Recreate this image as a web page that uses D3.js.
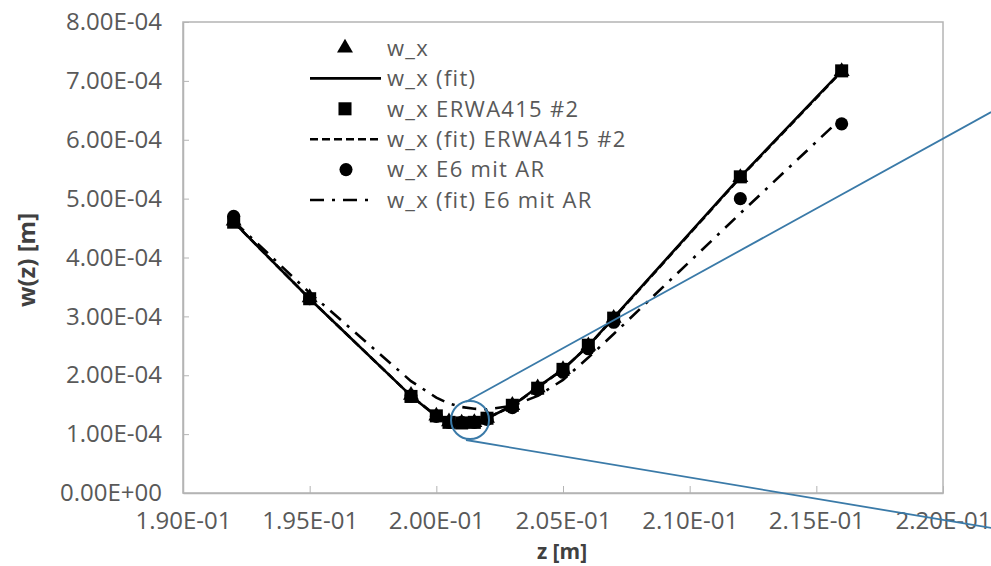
<!DOCTYPE html>
<html>
<head>
<meta charset="utf-8">
<script src="https://cdn.jsdelivr.net/npm/d3@7/dist/d3.min.js"></script>
<style>
body{margin:0;background:#fff}
text{font-family:"Open Sans",sans-serif}
</style>
</head>
<body>
<script>
// z positions [m]
var zVals=[0.192,0.195,0.199,0.200,0.2005,0.201,0.2015,0.202,0.203,0.204,0.205,0.206,0.207,0.212,0.216]

// w_x (triangles) and its fit
var wx=[4.62e-4,3.32e-4,1.66e-4,1.31e-4,1.21e-4,1.19e-4,1.2e-4,1.27e-4,1.49e-4,1.79e-4,2.1e-4,2.5e-4,2.97e-4,5.36e-4,7.16e-4]
var wxFit=[4.6e-4,3.3e-4,1.65e-4,1.3e-4,1.2e-4,1.18e-4,1.2e-4,1.27e-4,1.48e-4,1.8e-4,2.1e-4,2.5e-4,2.98e-4,5.37e-4,7.17e-4]

// w_x ERWA415 #2 (squares) and its fit
var erwa=[4.6e-4,3.3e-4,1.64e-4,1.31e-4,1.2e-4,1.19e-4,1.2e-4,1.27e-4,1.49e-4,1.78e-4,2.1e-4,2.51e-4,2.97e-4,5.37e-4,7.17e-4]
var erwaFit=[4.6e-4,3.3e-4,1.65e-4,1.31e-4,1.21e-4,1.19e-4,1.2e-4,1.27e-4,1.48e-4,1.79e-4,2.1e-4,2.5e-4,2.97e-4,5.36e-4,7.16e-4]

// w_x E6 mit AR (circles) and its fit
var e6=[4.7e-4,3.3e-4,1.65e-4,1.3e-4,1.2e-4,1.2e-4,1.2e-4,1.25e-4,1.45e-4,1.75e-4,2.05e-4,2.45e-4,2.9e-4,5.0e-4,6.27e-4]
var e6Fit=[4.62e-4,3.4e-4,1.9e-4,1.62e-4,1.52e-4,1.46e-4,1.43e-4,1.42e-4,1.48e-4,1.65e-4,1.92e-4,2.3e-4,2.7e-4,4.75e-4,6.37e-4]

var xTicks=[0.19,0.195,0.2,0.205,0.21,0.215,0.22]
var yTicks=[0,1e-4,2e-4,3e-4,4e-4,5e-4,6e-4,7e-4,8e-4]
var legendLabels=["w_x","w_x (fit)","w_x ERWA415 #2","w_x (fit) ERWA415 #2","w_x E6 mit AR","w_x (fit) E6 mit AR"]

// zoom marker (data coords) : circle centre and the two lines leaving it
var zoomCentre=[0.20133,1.24e-4]
var zoomLines=[[[0.20117,1.55e-4],[0.2219,6.47e-4]],[[0.20117,0.90e-4],[0.2219,-0.594e-4]]]

var W=991,H=566
var x=d3.scaleLinear().domain([0.19,0.22]).range([183,943])
var y=d3.scaleLinear().domain([0,8e-4]).range([493,22])

function fmt(d){
  var s=d.toExponential(2).split("e")
  var e=+s[1]
  return s[0]+"E"+(e<0?"-":"+")+String(Math.abs(e)).padStart(2,"0")
}

var svg=d3.select("body").append("svg")
.attr("width",W)
.attr("height",H)

// plot frame
svg.append("rect")
.attr("x",x(0.19)).attr("y",y(8e-4))
.attr("width",x(0.22)-x(0.19)).attr("height",y(0)-y(8e-4))
.attr("fill","none").attr("stroke","#b4b4b4").attr("stroke-width",1.5)

// axes
var gx=svg.append("g").attr("transform","translate(0,"+y(0)+")")
.call(d3.axisBottom(x).tickValues(xTicks).tickFormat(fmt).tickSizeInner(-7).tickSizeOuter(0))
gx.select(".domain").attr("stroke","#b4b4b4").attr("stroke-width",1.5)
gx.selectAll(".tick line").attr("stroke","#b4b4b4")
gx.selectAll(".tick text").attr("y",28).attr("dy","0.32em")
.attr("fill","#595959").style("font-size","24px")

var gy=svg.append("g").attr("transform","translate("+x(0.19)+",0)")
.call(d3.axisLeft(y).tickValues(yTicks).tickFormat(fmt).tickSizeInner(-6).tickSizeOuter(0))
gy.select(".domain").attr("stroke","#b4b4b4").attr("stroke-width",1.5)
gy.selectAll(".tick line").attr("stroke","#b4b4b4")
gy.selectAll(".tick text").attr("x",-21).attr("dy","0.32em")
.attr("fill","#595959").style("font-size","24px")

svg.append("text")
.attr("x",562).attr("y",552).attr("dy","0.35em")
.attr("text-anchor","middle").attr("fill","#404040")
.style("font-size","21px").style("font-weight","bold")
.text("z [m]")

svg.append("text")
.attr("transform","translate(27,260) rotate(-90)")
.attr("dy","0.35em")
.attr("text-anchor","middle").attr("fill","#404040")
.style("font-size","24px").style("font-weight","bold")
.text("w(z) [m]")

// series
function pts(vals){return zVals.map(function(z,i){return [z,vals[i]]})}
var line=d3.line().x(function(d){return x(d[0])}).y(function(d){return y(d[1])})

var tri=d3.symbol().type(d3.symbolTriangle).size(110)
var sq=d3.symbol().type(d3.symbolSquare).size(170)
var circ=d3.symbol().type(d3.symbolCircle).size(135)

var styles=[
  {dash:null},
  {dash:"8,4"},
  {dash:"14,8,3,8"}
]

svg.append("g").selectAll("path").data(pts(wx)).join("path")
.attr("d",tri).attr("transform",function(d){return "translate("+x(d[0])+","+y(d[1])+")"})
.attr("fill","#000")

svg.append("path").datum(pts(wxFit))
.attr("d",line).attr("fill","none").attr("stroke","#000").attr("stroke-width",2.6)

svg.append("g").selectAll("path").data(pts(erwa)).join("path")
.attr("d",sq).attr("transform",function(d){return "translate("+x(d[0])+","+y(d[1])+")"})
.attr("fill","#000")

svg.append("path").datum(pts(erwaFit))
.attr("d",line).attr("fill","none").attr("stroke","#000").attr("stroke-width",2.6)
.attr("stroke-dasharray",styles[1].dash)

svg.append("g").selectAll("path").data(pts(e6)).join("path")
.attr("d",circ).attr("transform",function(d){return "translate("+x(d[0])+","+y(d[1])+")"})
.attr("fill","#000")

svg.append("path").datum(pts(e6Fit))
.attr("d",line).attr("fill","none").attr("stroke","#000").attr("stroke-width",2.6)
.attr("stroke-dasharray",styles[2].dash)

// legend
var leg=svg.append("g")
var rowY=function(i){return 48+i*30.4}
legendLabels.forEach(function(t,i){
  var yy=rowY(i)
  if(i==0) leg.append("path").attr("d",tri).attr("transform","translate(345,"+yy+")")
  if(i==2) leg.append("path").attr("d",sq).attr("transform","translate(345,"+yy+")")
  if(i==4) leg.append("path").attr("d",circ).attr("transform","translate(346,"+yy+")")
  if(i==1||i==3) leg.append("line").attr("x1",310).attr("x2",381).attr("y1",yy).attr("y2",yy)
    .attr("stroke","#000").attr("stroke-width",2.6).attr("stroke-dasharray",i==3?styles[1].dash:null)
  if(i==5) leg.append("line").attr("x1",310).attr("x2",368).attr("y1",yy).attr("y2",yy)
    .attr("stroke","#000").attr("stroke-width",2.6).attr("stroke-dasharray",styles[2].dash)
  leg.append("text").attr("x",387).attr("y",yy).attr("dy","0.35em")
  .attr("fill","#595959").style("font-size","22px").style("letter-spacing","1.3px").text(t)
})

// zoom marker
var blue="#3a7aa8"
zoomLines.forEach(function(l){
  svg.append("line")
  .attr("x1",x(l[0][0])).attr("y1",y(l[0][1]))
  .attr("x2",x(l[1][0])).attr("y2",y(l[1][1]))
  .attr("stroke",blue).attr("stroke-width",1.8)
})
svg.append("circle")
.attr("cx",x(zoomCentre[0])).attr("cy",y(zoomCentre[1])).attr("r",19)
.attr("fill","none").attr("stroke",blue).attr("stroke-width",2)
</script>
</body>
</html>
